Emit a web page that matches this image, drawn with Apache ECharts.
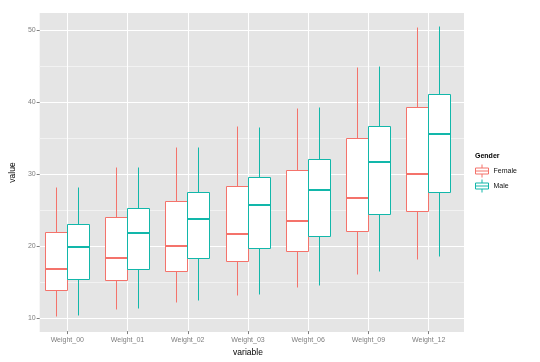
<!DOCTYPE html>
<html><head><meta charset="utf-8">
<script src="https://cdn.jsdelivr.net/npm/echarts@6/dist/echarts.min.js"></script>
<style>html,body{margin:0;padding:0;background:#fff}#c{width:540px;height:362px}</style>
</head><body><div id="c"></div>
<script>
const categories = ['Weight_00','Weight_01','Weight_02','Weight_03','Weight_06','Weight_09','Weight_12'];
// each row: [lower whisker, Q1, median, Q3, upper whisker]
const female = [
  [10.1, 13.7, 16.7, 21.85, 28.0],
  [11.1, 15.05, 18.3, 23.95, 30.8],
  [12.1, 16.4, 19.9, 26.1, 33.6],
  [13.05, 17.8, 21.6, 28.2, 36.6],
  [14.2, 19.2, 23.35, 30.45, 39.1],
  [15.9, 21.9, 26.6, 34.95, 44.8],
  [18.05, 24.7, 29.95, 39.2, 50.4]
];
const male = [
  [10.2, 15.2, 19.8, 22.9, 28.0],
  [11.25, 16.7, 21.7, 25.1, 30.8],
  [12.3, 18.2, 23.7, 27.4, 33.6],
  [13.2, 19.6, 25.65, 29.5, 36.4],
  [14.4, 21.2, 27.65, 31.9, 39.25],
  [16.4, 24.25, 31.55, 36.5, 44.9],
  [18.45, 27.4, 35.5, 41.05, 50.45]
];
const yTicks = [10, 20, 30, 40, 50];
const yMinorTicks = [15, 25, 35, 45];
const groups = ['Female', 'Male'];

const Y_MIN = 8.06, Y_MAX = 52.36;
const FONT = '"Liberation Sans", Arial, sans-serif';
const COLORS = {Female: '#F4736B', Male: '#12B7AA'};
const BOXW = 22;

function snap(v) { return Math.round(v - 0.5) + 0.5; }

// side: -1 = left of the category centre, +1 = right
function makeRender(side, color) {
  return function (params, api) {
    const i = api.value(0);
    const lo = api.value(1), q1 = api.value(2), med = api.value(3), q3 = api.value(4), hi = api.value(5);
    const edge = snap(api.coord([i, med])[0]);
    const x0 = side < 0 ? edge - BOXW : edge;
    const cx = x0 + BOXW / 2;
    const yLo = snap(api.coord([i, lo])[1]), yQ1 = snap(api.coord([i, q1])[1]),
          yMed = Math.round(api.coord([i, med])[1]),
          yQ3 = snap(api.coord([i, q3])[1]), yHi = snap(api.coord([i, hi])[1]);
    const cxs = snap(cx);
    return {
      type: 'group',
      children: [
        {type: 'line', shape: {x1: cxs, y1: yHi, x2: cxs, y2: yQ3}, style: {stroke: color, lineWidth: 1}},
        {type: 'line', shape: {x1: cxs, y1: yQ1, x2: cxs, y2: yLo}, style: {stroke: color, lineWidth: 1}},
        {type: 'rect', shape: {x: x0, y: yQ3, width: BOXW, height: yQ1 - yQ3}, style: {fill: '#fff', stroke: color, lineWidth: 1}},
        {type: 'line', shape: {x1: x0, y1: yMed, x2: x0 + BOXW, y2: yMed}, style: {stroke: color, lineWidth: 2}}
      ]
    };
  };
}

const chart = echarts.init(document.getElementById('c'), null, {renderer: 'canvas'});
const boxIcon = 'path://M0,3.5H13V9.5H0Z M0,6.5H13 M6.5,0V3.5 M6.5,9.5V13';

chart.setOption({
  animation: false,
  backgroundColor: '#fff',
  textStyle: {fontFamily: FONT},
  title: {text: 'Gender', left: 475, top: 153, padding: 0,
    textStyle: {fontSize: 7, fontWeight: 'bold', color: '#000', fontFamily: FONT}},
  legend: {
    orient: 'vertical', left: 475, top: 164, padding: 0,
    itemWidth: 13, itemHeight: 13, itemGap: 1,
    icon: boxIcon,
    textStyle: {fontSize: 7, color: '#111', fontFamily: FONT},
    data: groups.map(g => ({name: g, itemStyle: {color: '#fff', borderColor: COLORS[g], borderWidth: 1}}))
  },
  grid: [
    {left: 31, top: 13, width: 433, height: 319, show: true, backgroundColor: '#E5E5E5', borderWidth: 0, containLabel: false},
    {left: 67.3, top: 13, width: 361.4, height: 319, containLabel: false}
  ],
  xAxis: [
    {gridIndex: 0, type: 'value', show: false, min: 0, max: 1},
    {gridIndex: 1, type: 'category', data: categories, boundaryGap: false,
      axisLine: {show: false},
      axisTick: {show: true, length: 3, interval: 0, lineStyle: {color: '#7F7F7F'}},
      axisLabel: {interval: 0, color: '#7F7F7F', fontSize: 7, margin: 5, fontFamily: FONT},
      splitLine: {show: true, interval: 0, lineStyle: {color: '#FFFFFF', width: 1}},
      name: 'variable', nameLocation: 'middle', nameGap: 12,
      nameTextStyle: {color: '#000', fontSize: 8.5, fontFamily: FONT}}
  ],
  yAxis: [
    {gridIndex: 0, type: 'value', min: Y_MIN, max: Y_MAX,
      axisLine: {show: false},
      axisTick: {show: true, length: 3, customValues: yTicks, lineStyle: {color: '#7F7F7F'}},
      axisLabel: {customValues: yTicks, color: '#7F7F7F', fontSize: 7, margin: 4, fontFamily: FONT},
      splitLine: {show: true, lineStyle: {color: '#FFFFFF', width: 1}},
      name: 'value', nameLocation: 'middle', nameGap: 13,
      nameTextStyle: {color: '#000', fontSize: 8.5, fontFamily: FONT}},
    {gridIndex: 0, type: 'value', min: Y_MIN, max: Y_MAX, position: 'left',
      axisLine: {show: false}, axisLabel: {show: false, customValues: yMinorTicks},
      axisTick: {show: false, customValues: yMinorTicks},
      splitLine: {show: true, lineStyle: {color: '#F2F2F2', width: 1}}},
    {gridIndex: 1, type: 'value', min: Y_MIN, max: Y_MAX, show: false, splitLine: {show: false}}
  ],
  series: [
    {type: 'custom', name: 'Female', xAxisIndex: 1, yAxisIndex: 2, silent: true,
      itemStyle: {color: COLORS.Female},
      encode: {x: 0, y: [1, 2, 3, 4, 5]},
      renderItem: makeRender(-1, COLORS.Female),
      data: female.map((d, i) => [i].concat(d))},
    {type: 'custom', name: 'Male', xAxisIndex: 1, yAxisIndex: 2, silent: true,
      itemStyle: {color: COLORS.Male},
      encode: {x: 0, y: [1, 2, 3, 4, 5]},
      renderItem: makeRender(1, COLORS.Male),
      data: male.map((d, i) => [i].concat(d))}
  ]
});
</script>
</body></html>
